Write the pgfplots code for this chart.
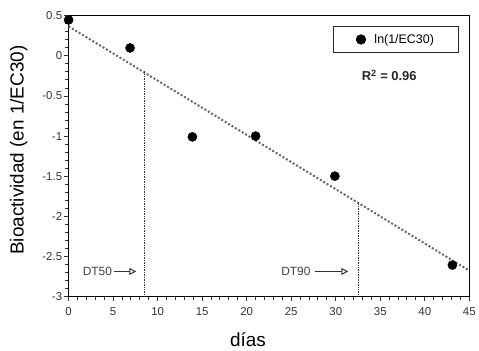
\documentclass[border=0pt]{standalone}
\usepackage{pgfplots}
\pgfplotsset{compat=1.18}
\usepackage{fontspec}
\setmainfont{Liberation Sans}
\usetikzlibrary{arrows.meta}
\begin{document}
\begin{tikzpicture}
\begin{axis}[
  scale only axis, width=403pt, height=282pt,
  xmin=0, xmax=45, ymin=-3, ymax=0.5,
  xtick={0,5,...,45}, ytick={-3,-2.5,...,0.5},
  minor x tick num=4, minor y tick num=4,
  tick align=outside, tick pos=left,
  major tick length=5pt, minor tick length=3.5pt,
  tick style={black!80, line width=1pt},
  axis line style={line width=1.2pt},
  /pgf/number format/assume math mode=true,
  tick label style={font=\fontsize{11.5}{12}\selectfont, text=black!80},
  yticklabel style={/pgf/number format/fixed, xshift=2pt},
  xticklabel style={yshift=-3pt},
  xlabel={días}, ylabel={Bioactividad (en 1/EC30)},
  label style={font=\fontsize{19}{21}\selectfont},
  xlabel style={yshift=-10pt, xshift=-21pt},
  ylabel style={yshift=8pt, xshift=6pt},
  legend style={at={(0.975,0.965)}, anchor=north east, draw=black!85, line width=1.1pt,
    font=\fontsize{12.5}{14}\selectfont, inner xsep=23pt, inner ysep=6pt,
    /tikz/every odd column/.append style={column sep=7pt}},
  legend cell align=left,
  clip=false,
]
\addplot[only marks, mark=*, mark size=4.6pt, black,
  legend image code/.code={\draw[##1] plot coordinates {(0cm,0cm)};}] coordinates {
  (0,0.45) (6.9,0.10) (13.9,-1.01) (21,-1.0) (29.9,-1.50) (43.1,-2.61)
};
\addlegendentry{ln(1/EC30)}
\addplot[black!60, line width=2pt, dotted, forget plot] coordinates {(0,0.37) (45,-2.68)};
\addplot[black!80, densely dotted, line width=0.7pt, forget plot] coordinates {(8.5,-3) (8.5,-0.18)};
\addplot[black!80, densely dotted, line width=0.7pt, forget plot] coordinates {(32.5,-3) (32.5,-1.83)};
\node[font=\fontsize{13}{15}\selectfont\bfseries, text=black!85] at (axis cs:36.0,-0.24) {R$^{\mathbf{2}}$ = 0.96};
\node[font=\fontsize{12}{13}\selectfont, text=black!75, anchor=east, inner sep=1pt] at (axis cs:5.0,-2.69) {DT50};
\draw[black!80, line width=1pt, -{Triangle[open, length=7pt, width=7pt]}] (axis cs:5.1,-2.69) -- (axis cs:7.6,-2.69);
\node[font=\fontsize{12}{13}\selectfont, text=black!75, anchor=east, inner sep=1pt] at (axis cs:27.3,-2.69) {DT90};
\draw[black!80, line width=1pt, -{Triangle[open, length=7pt, width=7pt]}] (axis cs:27.7,-2.69) -- (axis cs:31.4,-2.69);
\path (rel axis cs:0,0) ++(-69pt,-54pt) coordinate (bbA);
\path (rel axis cs:1,1) ++(7pt,16pt) coordinate (bbB);
\end{axis}
\end{tikzpicture}
\end{document}
